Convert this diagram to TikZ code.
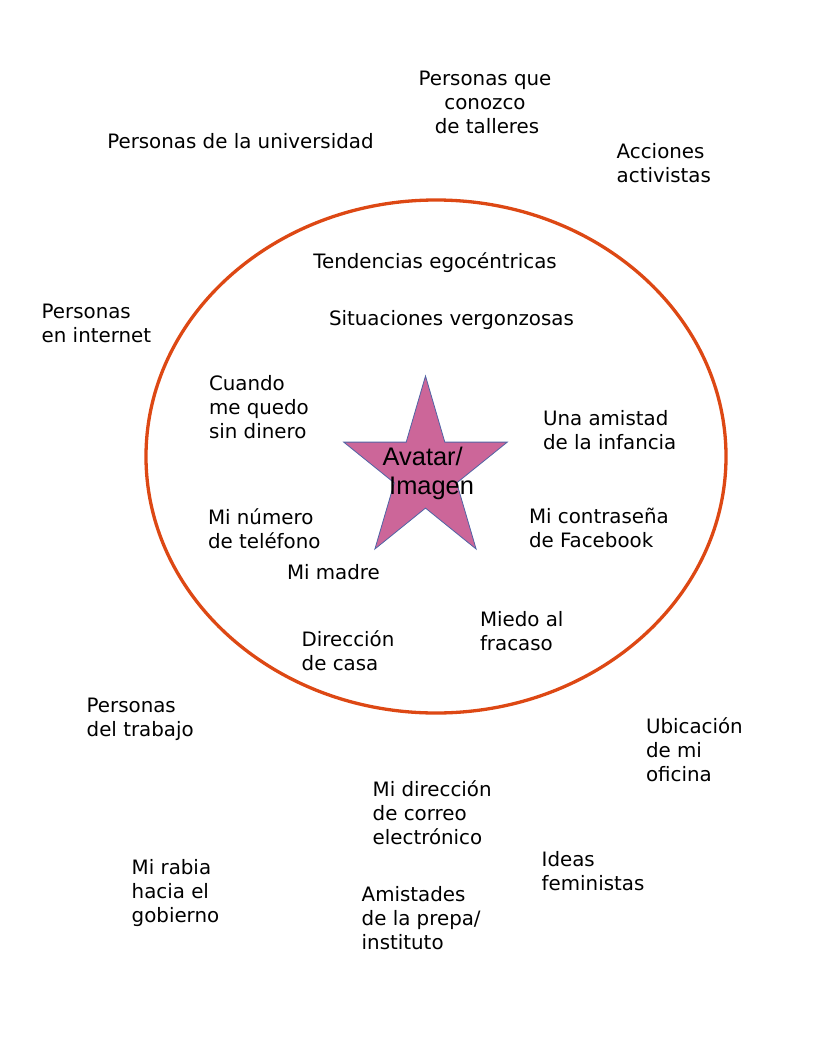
\documentclass[tikz,border=0pt]{standalone}
\usepackage{fontspec}
\usetikzlibrary{shapes.geometric}
\newfontfamily\dejavu{DejaVu Sans}
\newfontfamily\arialf{Liberation Sans}
\definecolor{ringcol}{RGB}{221,72,20}
\definecolor{starfill}{RGB}{204,102,153}
\definecolor{staredge}{RGB}{80,100,165}
\begin{document}
\begin{tikzpicture}[x=1bp,y=-1bp,
  lbl/.style={inner sep=0pt, outer sep=0pt, anchor=north west, align=left,
    font=\dejavu\fontsize{19.9}{24}\selectfont},
  clbl/.style={lbl, anchor=north, align=center},
  ring/.style={draw=ringcol, line width=3.3bp},
  starshape/.style={fill=starfill, draw=staredge, line width=0.8bp, line join=miter}]
\useasboundingbox (0,0) rectangle (816,1056);
% ring
\node[ring, ellipse, minimum width=580bp, minimum height=513bp, inner sep=0pt] (ring) at (436,456.5) {};
% star
\coordinate (s1) at (425.5,376);
\coordinate (s2) at (444.8,442.1);
\coordinate (s3) at (507.3,442.1);
\coordinate (s4) at (456.7,482.9);
\coordinate (s5) at (476.1,549);
\coordinate (s6) at (425.5,508.1);
\coordinate (s7) at (374.9,549);
\coordinate (s8) at (394.3,482.9);
\coordinate (s9) at (343.7,442.1);
\coordinate (s10) at (406.2,442.1);
\filldraw[starshape] (s1) -- (s2) -- (s3) -- (s4) -- (s5) -- (s6) -- (s7) -- (s8) -- (s9) -- (s10) -- cycle;
\node[inner sep=0pt, anchor=north west, align=left,
  font=\arialf\fontsize{25.5}{29}\selectfont] (avatar) at (382.5,445.4) {\strut Avatar/\\\hspace{6.5bp}Imagen};
% labels (north = first baseline - 16.8)
\node[clbl] (talleres) at (485,69.2) {\strut Personas que\\conozco\\\hspace{4bp}de talleres};
\node[lbl] (univ) at (107.3,131.5) {\strut Personas de la universidad};
\node[lbl] (acciones) at (616.7,141.5) {\strut Acciones\\activistas};
\node[lbl] (internet) at (41.7,301.5) {\strut Personas\\en internet};
\node[lbl] (tendencias) at (313.3,251.5) {\strut Tendencias egocéntricas};
\node[lbl] (situaciones) at (329,308.5) {\strut Situaciones vergonzosas};
\node[lbl] (dinero) at (209,373.8) {\strut Cuando\\me quedo\\sin dinero};
\node[lbl] (amistad) at (543,409.2) {\strut Una amistad\\de la infancia};
\node[lbl] (contrasena) at (529,506.5) {\strut Mi contraseña\\de Facebook};
\node[lbl] (telefono) at (208,508.2) {\strut Mi número\\de teléfono};
\node[lbl] (madre) at (287,563.2) {\strut Mi madre};
\node[lbl] (casa) at (301.7,629.9) {\strut Dirección\\de casa};
\node[lbl] (fracaso) at (480,609.9) {\strut Miedo al\\fracaso};
\node[lbl] (trabajo) at (86.7,695.9) {\strut Personas\\del trabajo};
\node[lbl] (oficina) at (646,717.2) {\strut Ubicación\\de mi\\oficina};
\node[lbl] (correo) at (372.7,779.9) {\strut Mi dirección\\de correo\\electrónico};
\node[lbl] (feministas) at (541.7,849.9) {\strut Ideas\\feministas};
\node[lbl] (rabia) at (131.7,857.5) {\strut Mi rabia\\hacia el\\gobierno};
\node[lbl] (prepa) at (361.7,885.2) {\strut Amistades\\de la prepa/\\instituto};
\end{tikzpicture}
\end{document}
